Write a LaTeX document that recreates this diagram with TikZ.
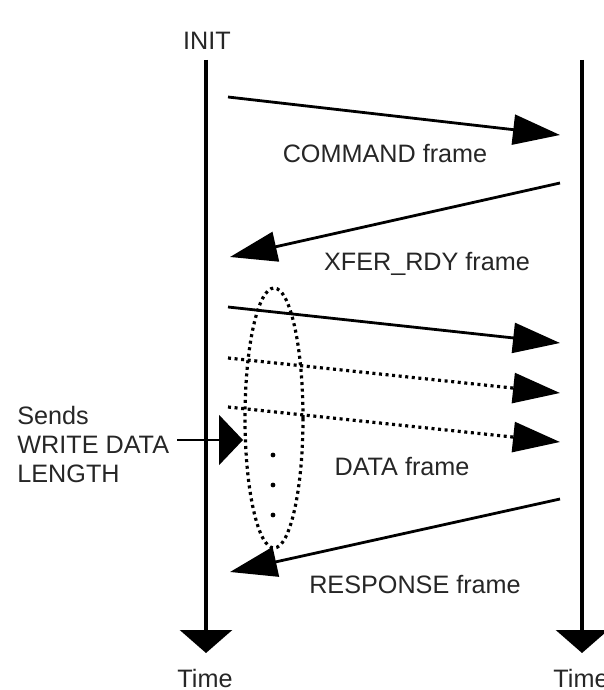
\documentclass[tikz,border=0pt]{standalone}
\usepackage{fontspec}
\setmainfont{Liberation Sans}
\usetikzlibrary{arrows.meta,shapes.geometric}
\begin{document}
\begin{tikzpicture}[x=0.5pt,y=-0.5pt,
  lbl/.style={font=\fontsize{12.6}{14.5}\selectfont, text=black!85, inner sep=0pt},
  life/.style={line width=1.6pt, -{Triangle[length=11.5pt,width=26pt]}},
  msg/.style={line width=1.4pt, -{Triangle[length=23.5pt,width=15pt]}},
  dotline/.style={line width=1.6pt, dash pattern=on 1.5pt off 1.8pt},
  dmsg/.style={msg, dotline},
  pointer/.style={line width=1pt, -{Triangle[length=12pt,width=25pt]}}]
\useasboundingbox (0,0) rectangle (604,690);
% lifelines
\coordinate (L0) at (206,60);
\coordinate (L1) at (206,653);
\coordinate (R0) at (582,60);
\coordinate (R1) at (582,653);
\draw[life] (L0) -- (L1);
\draw[life] (R0) -- (R1);
\node[lbl] (init) at (207,41) {INIT};
\node[lbl] (timeL) at (205,678) {Time};
\node[lbl] (timeR) at (581,678) {Time};
% message endpoints
\coordinate (c0) at (228,97);  \coordinate (c1) at (560,135);
\coordinate (x0) at (560,183); \coordinate (x1) at (230,257);
\coordinate (d0) at (228,307); \coordinate (d1) at (560,343);
\coordinate (e0) at (228,358); \coordinate (e1) at (560,393);
\coordinate (f0) at (228,407); \coordinate (f1) at (560,442);
\coordinate (r0) at (560,499); \coordinate (r1) at (230,572);
\draw[msg] (c0) -- (c1);
\draw[msg] (x0) -- (x1);
\draw[msg] (d0) -- (d1);
\draw[dmsg] (e0) -- (e1);
\draw[dmsg] (f0) -- (f1);
\draw[msg] (r0) -- (r1);
\node[lbl] (cmd) at (385,154) {COMMAND frame};
\node[lbl] (xfer) at (427,264) {XFER\_RDY frame};
\node[lbl] (data) at (402,466) {DATA frame};
\node[lbl] (resp) at (415,584) {RESPONSE frame};
% ellipse group
\node[draw, ellipse, dotline,
      minimum width=29pt, minimum height=130pt, inner sep=0pt] (grp) at (274,418) {};
\foreach \yy/\nm in {455/da,485/db,515/dc}
  \fill (273,\yy) circle[radius=1.2pt] coordinate (\nm);
% sends
\node[lbl, align=left, anchor=west] (sends) at (17,444) {Sends\\WRITE DATA\\LENGTH};
\coordinate (p0) at (177,440);
\coordinate (p1) at (243,440);
\draw[pointer] (p0) -- (p1);
\end{tikzpicture}
\end{document}
